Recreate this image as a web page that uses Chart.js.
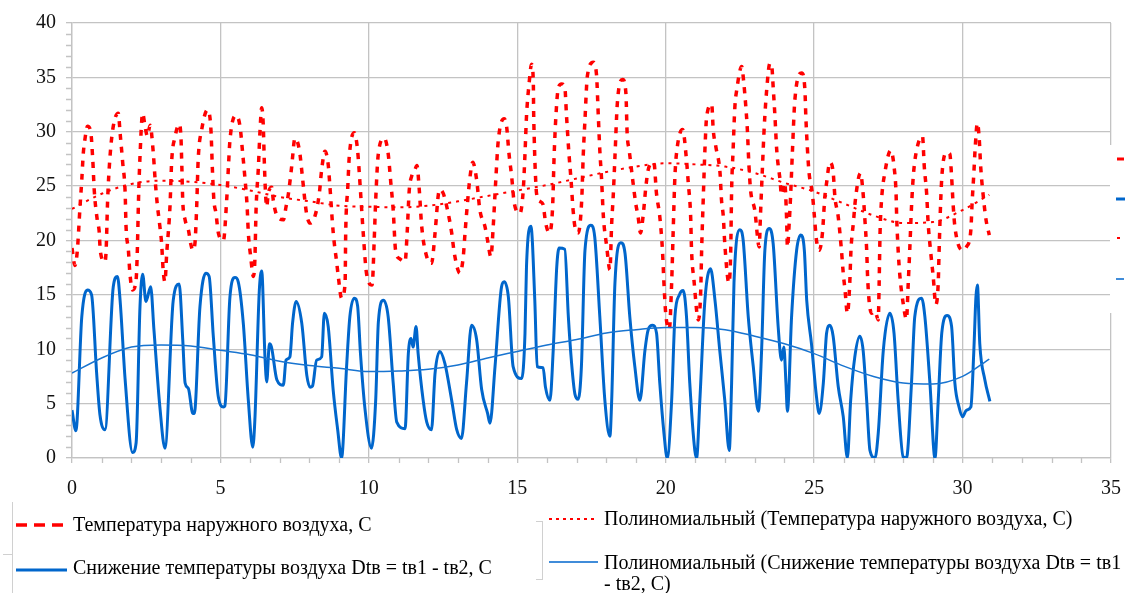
<!DOCTYPE html>
<html>
<head>
<meta charset="utf-8">
<script src="https://cdn.jsdelivr.net/npm/chart.js@4.4.1/dist/chart.umd.min.js"></script>
<style>
    html, body { margin: 0; padding: 0; background: #fff; }
    #wrap { width: 1128px; height: 593px; }
</style>
</head>
<body>
<div id="wrap"><canvas id="chart" width="1128" height="593"></canvas></div>
<script>
// Температура наружного воздуха (сутки, значение)
const tempX = [0, 0.1, 0.18, 0.27, 0.33, 0.38, 0.43, 0.52, 0.63, 0.7, 0.75, 0.85, 0.92, 0.95, 1.11, 1.15, 1.2, 1.28, 1.39, 1.56,
    1.62, 1.71, 1.79, 1.82, 1.9, 1.95, 2.04, 2.16, 2.2, 2.24, 2.29, 2.38, 2.46, 2.54, 2.63, 2.74, 2.8, 2.87, 2.96, 3.02,
    3.07, 3.13, 3.19, 3.3, 3.36, 3.47, 3.61, 3.67, 3.7, 3.73, 3.81, 3.92, 4.0, 4.07, 4.14, 4.2, 4.25, 4.37, 4.56, 4.68,
    4.73, 4.78, 4.85, 4.93, 5.1, 5.21, 5.27, 5.32, 5.52, 5.66, 5.75, 5.83, 5.9, 5.94, 6.02, 6.11, 6.16, 6.2, 6.28, 6.33,
    6.39, 6.44, 6.48, 6.52, 6.56, 6.61, 6.73, 6.78, 6.9, 7.12, 7.21, 7.29, 7.4, 7.51, 7.66, 7.76, 7.82, 7.9, 8.02, 8.18,
    8.33, 8.41, 8.52, 8.63, 8.69, 8.8, 8.92, 8.97, 9.08, 9.2, 9.22, 9.29, 9.34, 9.51, 9.62, 9.7, 9.81, 9.92, 10.11, 10.18,
    10.23, 10.32, 10.52, 10.65, 10.74, 10.82, 10.9, 11.05, 11.22, 11.29, 11.36, 11.44, 11.55, 11.62, 11.7, 11.78, 11.95, 12.11, 12.23, 12.34,
    12.39, 12.51, 12.65, 12.79, 12.88, 13.07, 13.18, 13.24, 13.33, 13.41, 13.5, 13.63, 13.74, 13.91, 14.0, 14.11, 14.19, 14.27, 14.36, 14.56,
    14.64, 14.72, 14.81, 14.9, 15.09, 15.2, 15.26, 15.31, 15.4, 15.48, 15.54, 15.55, 15.57, 15.6, 15.65, 15.76, 15.87, 15.95, 16.08, 16.19,
    16.24, 16.3, 16.38, 16.49, 16.6, 16.66, 16.74, 16.81, 16.88, 16.94, 17.05, 17.17, 17.22, 17.28, 17.36, 17.56, 17.67, 17.73, 17.78, 17.84,
    17.9, 18.01, 18.12, 18.18, 18.23, 18.29, 18.37, 18.55, 18.66, 18.7, 18.77, 18.9, 18.99, 19.07, 19.15, 19.24, 19.33, 19.41, 19.6, 19.69,
    19.8, 19.89, 19.94, 20.0, 20.12, 20.2, 20.25, 20.31, 20.39, 20.57, 20.7, 20.76, 20.84, 20.87, 20.95, 21.1, 21.18, 21.21, 21.27, 21.32,
    21.38, 21.55, 21.6, 21.69, 21.83, 21.88, 21.94, 21.99, 22.13, 22.19, 22.22, 22.27, 22.33, 22.39, 22.56, 22.63, 22.69, 22.75, 22.8, 22.86,
    23.0, 23.15, 23.19, 23.26, 23.32, 23.4, 23.51, 23.57, 23.62, 23.68, 23.74, 23.85, 23.9, 24.01, 24.07, 24.1, 24.16, 24.21, 24.27, 24.35,
    24.58, 24.69, 24.72, 24.77, 24.83, 24.94, 25.0, 25.08, 25.17, 25.28, 25.36, 25.42, 25.53, 25.64, 25.7, 25.81, 25.92, 25.98, 26.04, 26.12,
    26.2, 26.24, 26.32, 26.4, 26.56, 26.65, 26.71, 26.77, 26.8, 26.86, 26.94, 27.05, 27.16, 27.19, 27.22, 27.27, 27.38, 27.58, 27.7, 27.76,
    27.78, 27.83, 27.89, 28.0, 28.11, 28.17, 28.22, 28.28, 28.34, 28.43, 28.65, 28.71, 28.79, 28.84, 28.92, 29.01, 29.1, 29.18, 29.21, 29.26,
    29.31, 29.46, 29.57, 29.63, 29.68, 29.74, 30.0, 30.13, 30.28, 30.32, 30.38, 30.42, 30.5, 30.56, 30.61, 30.7, 30.79, 30.9];
const tempY = [19.3, 17.7, 19.1, 23.1, 25.6, 28, 29.2, 30.5, 30, 27.4, 24.6, 21.9, 20.7, 19.1, 18.05, 19.1, 23.7, 27.7, 30.5, 31.7,
    29.9, 27.1, 24.4, 21.3, 19.1, 17, 15.45, 16.4, 19, 23.7, 27.7, 31.7, 30.5, 29.6, 30.6, 28, 25.6, 23.4, 21.3, 19.7,
    17.3, 16.2, 18.8, 23.1, 27.4, 29.5, 30.7, 29.5, 26.8, 23.7, 21.9, 21, 19.7, 19.1, 19.7, 23.1, 27.4, 30.2, 32, 30.2,
    26.5, 23.7, 22.5, 20.7, 20, 23.7, 26.8, 29.2, 31.5, 30.5, 28, 25.6, 23.1, 20.7, 18.5, 16.7, 18.2, 22.8, 26.8, 29.9,
    32.2, 30.8, 27.1, 24.3, 23.1, 24.3, 24.9, 23.7, 22.3, 21.9, 23.1, 24.3, 26.8, 29.4, 28.3, 25.9, 24.3, 22.5, 21.6, 22.2,
    24.3, 26.5, 28.2, 27, 24.9, 20.7, 17.9, 16.7, 14.7, 16.1, 20.7, 24.9, 27.7, 29.9, 28.3, 25.3, 20.7, 17, 15.9, 20,
    23.7, 28, 29.4, 28, 25.3, 22.8, 19.1, 18.3, 18.05, 20.7, 24.6, 25.9, 26.5, 26.9, 24.6, 21.3, 18.5, 17.9, 20.7, 24.2,
    24.7, 24.3, 22.8, 20.7, 18.8, 17, 18.5, 20.7, 23.7, 25.9, 27.2, 25.6, 22.8, 21.3, 20, 18.5, 21.3, 25.3, 29.2, 31.2,
    30.5, 28, 25.9, 23.4, 22.5, 24.6, 28, 31.4, 34.5, 36.2, 34.6, 32, 29.5, 26.8, 24.3, 23.6, 23.3, 21.7, 20.7, 23.1,
    27.7, 31.4, 34, 34.4, 34.1, 31.4, 28, 25.6, 22.8, 21.3, 20.7, 23.7, 27.7, 31.1, 35.1, 36.4, 35.2, 31.4, 28.3, 25.6,
    22.2, 19.5, 17.3, 21.6, 24, 27.7, 32.6, 34.8, 33.5, 29.9, 28.3, 25.3, 23.4, 22.2, 20.7, 22.3, 24.9, 26.5, 27.2, 24.3,
    22.2, 19.1, 16.1, 13.3, 11.8, 16.1, 20.7, 25.9, 28.6, 30.2, 27.4, 25.3, 22.2, 19.1, 16.4, 12.7, 15.45, 19.1, 24.3, 28.3,
    31.4, 32.5, 30.2, 28.6, 26.2, 23.7, 22.2, 19.7, 16.1, 19.1, 24.6, 28.3, 32.3, 33.8, 36, 34.5, 32.6, 30.2, 27.1, 24.6,
    22.8, 19.4, 22.2, 26.8, 30.5, 33.8, 36.3, 36.1, 34.1, 31.4, 28.3, 25.6, 24.2, 25.3, 22.2, 19.4, 21.6, 24.3, 28.3, 32.9,
    35.4, 33.8, 31.4, 28.6, 26.2, 24.3, 22.5, 20, 19.1, 20.7, 24, 25.3, 27.2, 26.3, 24, 22.2, 19.1, 17, 15.45, 13.3,
    16.1, 19.1, 21.6, 24, 26.2, 24.3, 21.9, 19.1, 16.7, 14.2, 13.3, 13.5, 12.7, 16.1, 20.7, 23.7, 26.2, 28.3, 26.6, 24.3,
    22.2, 19.1, 16.7, 14.2, 12.75, 16.1, 19.1, 23.1, 25.9, 28, 29.6, 26.8, 24.3, 21.6, 19.1, 16.7, 14.1, 16.1, 19.1, 23.4,
    26.2, 28.1, 27.95, 25.9, 23.4, 21.3, 19.1, 19.4, 21, 23.4, 26.2, 28.3, 30.8, 29.4, 26.8, 24, 21.9, 20.5];

// Снижение температуры воздуха Dtв = tв1 - tв2
const dtX = [0, 0.13, 0.33, 0.52, 0.66, 0.83, 0.94, 1.11, 1.39, 1.53, 1.62, 1.79, 2.04, 2.16, 2.29, 2.38, 2.49, 2.65, 2.76, 2.96,
    3.13, 3.41, 3.61, 3.73, 3.81, 3.92, 4.07, 4.12, 4.31, 4.51, 4.62, 4.76, 4.93, 5.1, 5.15, 5.32, 5.49, 5.6, 5.77, 5.94,
    6.09, 6.16, 6.31, 6.39, 6.5, 6.56, 6.65, 6.72, 6.9, 7.12, 7.21, 7.34, 7.43, 7.55, 7.74, 7.91, 8.02, 8.1, 8.24, 8.41,
    8.5, 8.63, 8.8, 8.95, 9.08, 9.25, 9.36, 9.51, 9.62, 9.72, 9.87, 10.09, 10.23, 10.32, 10.49, 10.65, 10.82, 10.94, 11.22, 11.33,
    11.42, 11.49, 11.59, 11.66, 11.83, 11.95, 12.11, 12.23, 12.39, 12.56, 12.79, 12.96, 13.12, 13.29, 13.46, 13.63, 13.8, 14.0, 14.08, 14.25,
    14.47, 14.56, 14.7, 14.86, 15.15, 15.26, 15.31, 15.46, 15.59, 15.67, 15.87, 15.95, 16.1, 16.21, 16.33, 16.41, 16.6, 16.72, 16.83, 16.94,
    17.05, 17.16, 17.28, 17.48, 17.61, 17.78, 17.95, 18.12, 18.18, 18.29, 18.49, 18.63, 18.79, 18.96, 19.13, 19.3, 19.41, 19.56, 19.69, 19.8,
    19.94, 20.05, 20.2, 20.31, 20.46, 20.59, 20.7, 20.81, 20.98, 21.04, 21.15, 21.32, 21.51, 21.66, 21.82, 21.99, 22.14, 22.22, 22.3, 22.5,
    22.61, 22.78, 22.95, 23.12, 23.23, 23.34, 23.49, 23.62, 23.79, 23.9, 23.98, 24.05, 24.1, 24.24, 24.41, 24.55, 24.67, 24.75, 24.91, 25.08,
    25.17, 25.31, 25.42, 25.53, 25.64, 25.81, 25.98, 26.12, 26.23, 26.37, 26.54, 26.65, 26.77, 26.88, 27.05, 27.16, 27.33, 27.55, 27.69, 27.83,
    28.0, 28.11, 28.28, 28.39, 28.62, 28.73, 28.9, 29.07, 29.18, 29.3, 29.48, 29.63, 29.74, 29.88, 30.0, 30.13, 30.28, 30.38, 30.45, 30.5,
    30.58, 30.75, 30.92];
const dtY = [4.4, 2.5, 13, 15.45, 15, 7.8, 4, 2.6, 15.75, 16.7, 14.5, 7.2, 0.5, 1.4, 13.9, 16.9, 14.4, 15.75, 11.8, 4.7,
    0.9, 14.5, 16, 10.9, 6.9, 6.4, 4.1, 4.1, 13.9, 17, 16.7, 11.2, 5.6, 4.7, 4.8, 14.8, 16.6, 16.2, 12.4, 5.3,
    1.0, 3.5, 15.4, 17.2, 9.3, 7.0, 10.5, 10.2, 7.2, 6.7, 9.0, 9.3, 12.4, 14.4, 12.4, 7.6, 6.5, 6.6, 9.0, 9.3,
    13.3, 12.1, 6.2, 2.6, 0, 8.4, 13, 14.7, 14.0, 9.5, 4.5, 0.9, 5.3, 12.5, 14.5, 13, 6.9, 3.3, 2.7, 9.6,
    11, 10.2, 12.1, 9.6, 5.3, 3.3, 2.6, 7.8, 9.8, 8.7, 5.3, 2.6, 1.8, 6.9, 12.2, 10.9, 6.3, 4.1, 3.2, 8.4,
    15.75, 16.2, 14.8, 8.4, 7.3, 11.5, 17.6, 21.3, 14.5, 8.4, 8.3, 6.5, 5.3, 9.9, 17.6, 19.3, 19.2, 13, 8.7, 5.9,
    5.4, 8.4, 19.1, 21.4, 20.3, 13, 5.3, 2.0, 5.3, 16.1, 19.8, 18.8, 13, 8.4, 5.3, 9.9, 11.8, 12.2, 11.5, 6.9,
    2.3, 0, 5.3, 13, 15, 15.4, 13, 6.9, 0.7, 0, 5.3, 14.5, 17.4, 14.5, 9.9, 5.3, 0.7, 6.9, 16.1, 21,
    20, 13, 8.4, 4.3, 9.9, 19.1, 21.1, 19.7, 12, 9.0, 10.2, 6.9, 4.3, 13, 19.1, 20.5, 19.1, 14.5, 10.5, 5.6,
    4.1, 6.9, 11.5, 12.2, 11.2, 6.6, 3.8, 0, 5.3, 9.3, 11.2, 9.9, 5.3, 0.7, 0, 2.3, 9.9, 13.3, 11.5, 5.3,
    0.1, 0, 6.9, 13, 14.7, 13, 6.9, 0, 5.3, 11.5, 13.1, 12.1, 6.9, 4.7, 3.8, 4.4, 4.7, 9.9, 14.8, 15.9,
    10.5, 7.2, 5.2];

// Полиномиальные линии тренда
const trendX = [0, 1, 2, 3, 4, 5, 6, 7, 8, 9, 10, 11, 12, 13, 14, 15, 16, 17, 18, 19, 20, 21, 22, 23, 24, 25, 26, 27, 28, 29, 30, 30.9];
const tempTrend = [22.9, 24.3, 25.2, 25.5, 25.4, 25.1, 24.6, 24.0, 23.6, 23.2, 23.1, 23.05, 23.2, 23.6, 24.1, 24.6, 25.1, 25.7, 26.3, 26.8, 27.1, 27.0, 26.8, 26.2, 25.3, 24.5, 23.4, 22.3, 21.6, 21.7, 22.8, 24.2];
const dtTrend = [7.8, 9.2, 10.2, 10.4, 10.3, 9.9, 9.5, 8.9, 8.5, 8.25, 7.95, 8.0, 8.15, 8.55, 9.2, 9.8, 10.4, 10.9, 11.5, 11.8, 12.0, 12.0, 11.8, 11.2, 10.5, 9.6, 8.45, 7.5, 6.9, 6.8, 7.5, 9.1];

const seriesNames = [
    'Температура наружного воздуха, С',
    'Снижение температуры воздуха Dtв = tв1 - tв2, С',
    'Полиномиальный (Температура наружного воздуха, С)',
    'Полиномиальный (Снижение температуры воздуха Dtв = tв1',
    '- tв2, С)'
];

const RED = '#ff0000';
const BLUE = '#0066cc';
const GRID = '#c3c3c3';
const FONT = '"Liberation Serif", "Times New Roman", serif';

function toPoints(xs, ys) {
    return xs.map((x, i) => ({ x: x, y: ys[i] }));
}

// Мелкие деления на осях
const minorTicks = {
    id: 'minorTicks',
    beforeDatasetsDraw(chart) {
        const ctx = chart.ctx;
        const xs = chart.scales.x;
        const ys = chart.scales.y;
        ctx.save();
        ctx.strokeStyle = GRID;
        ctx.lineWidth = 1.3;
        ctx.beginPath();
        for (let v = 1; v < 40; v++) {
            if (v % 5 === 0) continue;
            const py = Math.round(ys.getPixelForValue(v)) + 0.5;
            ctx.moveTo(ys.right - 6, py);
            ctx.lineTo(ys.right, py);
        }
        for (let v = 1; v < 35; v++) {
            if (v % 5 === 0) continue;
            const px = Math.round(xs.getPixelForValue(v)) + 0.5;
            ctx.moveTo(px, xs.top);
            ctx.lineTo(px, xs.top + 5);
        }
        ctx.stroke();
        ctx.restore();
    }
};

// Легенда снизу и обрезанная легенда справа
const legendBox = {
    id: 'legendBox',
    afterDraw(chart) {
        const ctx = chart.ctx;
        ctx.save();

        // рамки выделения легенды
        ctx.strokeStyle = '#d0d0d0';
        ctx.lineWidth = 1;
        ctx.beginPath();
        ctx.moveTo(12.5, 502); ctx.lineTo(12.5, 593);
        ctx.moveTo(3, 554.5); ctx.lineTo(12.5, 554.5);
        ctx.moveTo(542.5, 521); ctx.lineTo(542.5, 580);
        ctx.moveTo(536, 521.5); ctx.lineTo(542.5, 521.5);
        ctx.moveTo(536, 579.5); ctx.lineTo(542.5, 579.5);
        ctx.stroke();

        function sample(x1, x2, y, color, width, dash) {
            ctx.beginPath();
            ctx.strokeStyle = color;
            ctx.lineWidth = width;
            ctx.setLineDash(dash);
            ctx.moveTo(x1, y);
            ctx.lineTo(x2, y);
            ctx.stroke();
            ctx.setLineDash([]);
        }

        sample(16, 67, 525, RED, 3.5, [11, 7]);
        sample(16, 67, 570, BLUE, 3, []);
        sample(549, 598, 519, RED, 2, [3, 4]);
        sample(549, 598, 562, BLUE, 1.5, []);

        ctx.fillStyle = '#000';
        ctx.font = '20px ' + FONT;
        ctx.textBaseline = 'alphabetic';
        ctx.textAlign = 'left';
        ctx.fillText(seriesNames[0], 73, 531);
        ctx.fillText(seriesNames[1], 73, 574);
        ctx.fillText(seriesNames[2], 604, 525);
        ctx.fillText(seriesNames[3], 604, 569);
        ctx.fillText(seriesNames[4], 604, 590);

        // правая легенда, обрезанная краем
        ctx.fillStyle = '#fff';
        ctx.fillRect(1110, 145, 18, 168);
        sample(1117, 1124, 159, RED, 3, []);
        sample(1116, 1125, 199, BLUE, 3, []);
        sample(1117, 1120, 238, RED, 2, []);
        sample(1116, 1124, 279, BLUE, 1.5, []);
        ctx.restore();
    }
};

new Chart(document.getElementById('chart'), {
    type: 'line',
    data: {
        datasets: [
            {
                label: seriesNames[2],
                data: toPoints(trendX, tempTrend),
                borderColor: RED,
                borderWidth: 2,
                borderDash: [3, 5],
                pointRadius: 0,
                cubicInterpolationMode: 'monotone',
                fill: false
            },
            {
                label: seriesNames[3],
                data: toPoints(trendX, dtTrend),
                borderColor: '#1874d0',
                borderWidth: 1.5,
                pointRadius: 0,
                cubicInterpolationMode: 'monotone',
                fill: false
            },
            {
                label: seriesNames[0],
                data: toPoints(tempX, tempY),
                borderColor: RED,
                borderWidth: 3.5,
                borderDash: [6, 7],
                pointRadius: 0,
                cubicInterpolationMode: 'monotone',
                fill: false
            },
            {
                label: seriesNames[1],
                data: toPoints(dtX, dtY),
                borderColor: BLUE,
                borderWidth: 3,
                pointRadius: 0,
                cubicInterpolationMode: 'monotone',
                fill: false
            }
        ]
    },
    options: {
        responsive: false,
        animation: false,
        devicePixelRatio: 1,
        layout: { padding: { left: 0, right: 17, top: 23, bottom: 0 } },
        plugins: {
            legend: { display: false },
            tooltip: { enabled: false }
        },
        scales: {
            x: {
                type: 'linear',
                min: 0,
                max: 35,
                afterFit: function(scale) {
                    scale.height = 135;
                    scale.paddingLeft = 0;
                    scale.paddingRight = 0;
                },
                grid: { color: GRID, lineWidth: 1.3, tickLength: 5 },
                border: { color: GRID, width: 1.3 },
                ticks: {
                    stepSize: 5,
                    color: '#111',
                    padding: 14,
                    font: { family: FONT, size: 20 }
                }
            },
            y: {
                min: 0,
                max: 40,
                afterFit: function(scale) { scale.width = 72; },
                grid: { color: GRID, lineWidth: 1.3, tickLength: 6 },
                border: { color: GRID, width: 1.3 },
                ticks: {
                    stepSize: 5,
                    color: '#111',
                    padding: 10,
                    font: { family: FONT, size: 20 }
                }
            }
        }
    },
    plugins: [minorTicks, legendBox]
});
</script>
</body>
</html>
